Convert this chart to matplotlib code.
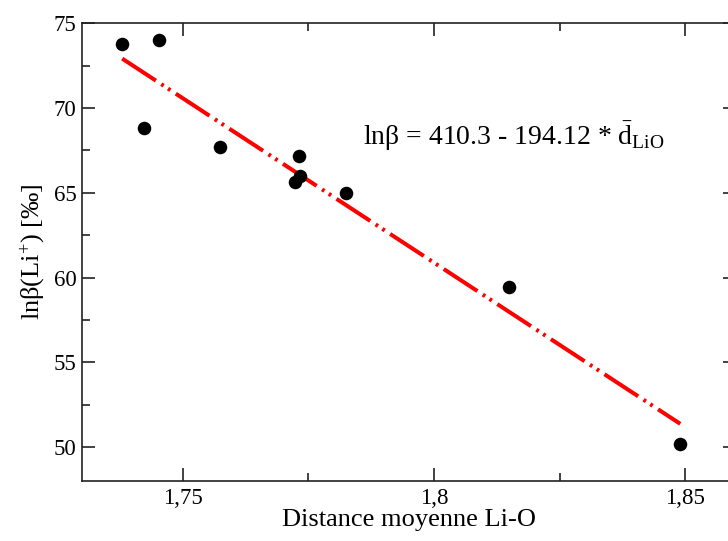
import matplotlib.pyplot as plt
from matplotlib.ticker import MultipleLocator, FuncFormatter

plt.rcParams['font.family'] = ['Liberation Serif', 'DejaVu Serif']
plt.rcParams['mathtext.fontset'] = 'custom'
plt.rcParams['mathtext.rm'] = 'Liberation Serif'
plt.rcParams['mathtext.it'] = 'Liberation Serif:italic'

# mean Li-O distance and ln(beta) values
distance = [1.738, 1.7454, 1.7424, 1.7575, 1.7732, 1.7734, 1.7724, 1.7826, 1.815, 1.849]
ln_beta = [73.79, 74.03, 68.83, 67.71, 67.18, 66.0, 65.64, 64.99, 59.45, 50.18]

# linear fit shown on the chart
fit_a = 410.3
fit_b = 194.12
fit_x = [min(distance), max(distance)]
fit_y = [fit_a - fit_b * x for x in fit_x]

fig = plt.figure(figsize=(7.28, 5.41), dpi=100)
ax = fig.add_axes([0.1126, 0.1109, 0.8978, 0.846])

ax.plot(fit_x, fit_y, color='red', lw=2.9, dashes=(10, 1.6, 0.7, 1.3, 0.7, 1.6),
        solid_capstyle='butt', dash_capstyle='butt', zorder=2)
ax.scatter(distance, ln_beta, s=95, color='black', zorder=3, linewidths=0)

ax.set_xlim(1.73, 1.86)
ax.set_ylim(48, 75)
ax.xaxis.set_major_locator(MultipleLocator(0.05))
ax.xaxis.set_minor_locator(MultipleLocator(0.025))
ax.yaxis.set_major_locator(MultipleLocator(5))
ax.yaxis.set_minor_locator(MultipleLocator(2.5))
ax.xaxis.set_major_formatter(FuncFormatter(lambda v, p: f"{v:g}".replace('.', ',')))

ax.tick_params(which='both', direction='in', top=True, right=True, width=1.2, colors='#222222')
ax.tick_params(which='major', length=9.5, labelsize=16.5, labelcolor='black')
ax.tick_params(which='minor', length=5.5)
ax.tick_params(axis='x', which='major', pad=5)
ax.tick_params(axis='y', which='major', pad=4)
for s in ax.spines.values():
    s.set_linewidth(1.2)
    s.set_color('#222222')

ax.set_xlabel('Distance moyenne Li-O', fontsize=19, labelpad=0)
ax.set_ylabel(r'ln$\mathregular{\beta(Li^{+})}$ [‰]', fontsize=19, labelpad=5)

ax.text(1.7859, 67.85, r'ln$\mathregular{\beta}$ = 410.3 - 194.12 * $\mathregular{\bar{d}_{LiO}}$',
        fontsize=20)

fig.savefig('out.png', dpi=100)
